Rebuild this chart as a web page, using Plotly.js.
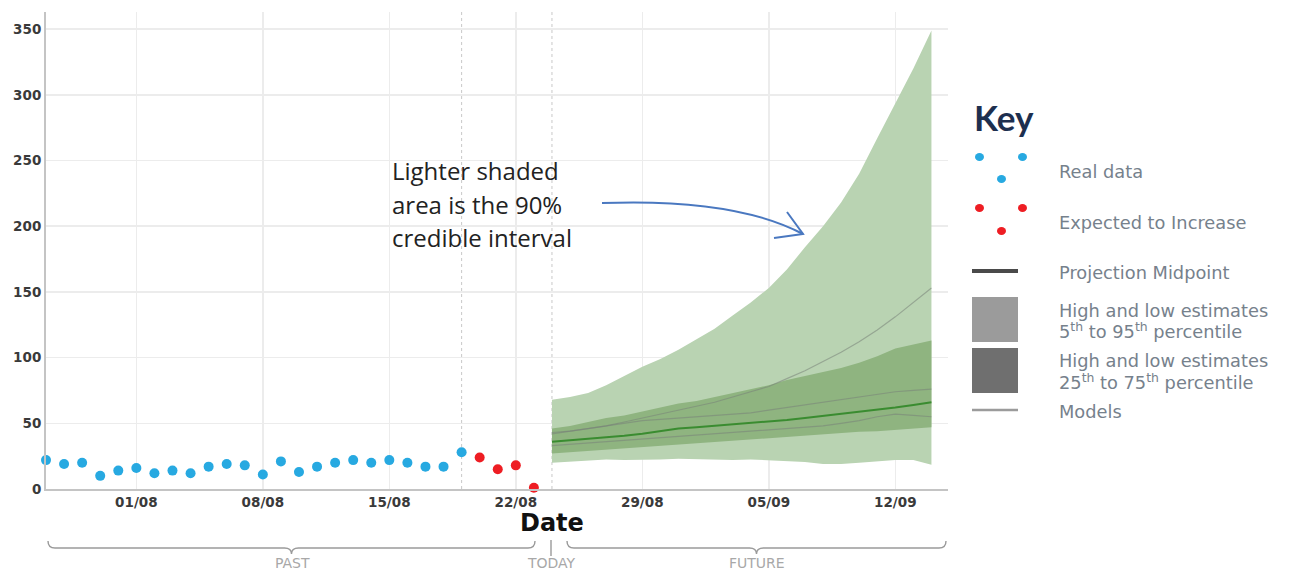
<!DOCTYPE html>
<html>
<head>
<meta charset="utf-8">
<script src="https://cdn.plot.ly/plotly-3.0.1.min.js"></script>
<style>html,body{margin:0;padding:0;background:#fff;}#chart{width:1290px;height:573px;}</style>
</head>
<body>
<div id="chart"></div>
<script>
// ---- data ----
const realDates = ['2020-07-27','2020-07-28','2020-07-29','2020-07-30','2020-07-31','2020-08-01','2020-08-02','2020-08-03','2020-08-04','2020-08-05','2020-08-06','2020-08-07','2020-08-08','2020-08-09','2020-08-10','2020-08-11','2020-08-12','2020-08-13','2020-08-14','2020-08-15','2020-08-16','2020-08-17','2020-08-18','2020-08-19'];
const realValues = [22,19,20,10,14,16,12,14,12,17,19,18,11,21,13,17,20,22,20,22,20,17,17,28];
const expectedDates = ['2020-08-20','2020-08-21','2020-08-22','2020-08-23'];
const expectedValues = [24,15,18,1];
const projDates = ['2020-08-24','2020-08-25','2020-08-26','2020-08-27','2020-08-28','2020-08-29','2020-08-30','2020-08-31','2020-09-01','2020-09-02','2020-09-03','2020-09-04','2020-09-05','2020-09-06','2020-09-07','2020-09-08','2020-09-09','2020-09-10','2020-09-11','2020-09-12','2020-09-13','2020-09-14'];
const p95 = [68,70,73,79,86,93,99,106,114,122,132,142,153,167,184,200,218,240,267,293,320,349];
const p05 = [20,21,22,22.5,22,22,22.5,23,22.5,22,22,22.5,22,21,20.5,19,19,20,21,22,22,18.5];
const p75 = [46,48,51,54,56,59,62,65,67,70,73,76,79,83,86,89,92,96,101,107,110,113];
const p25 = [27,28,29,30,31,32,33,34,35,36,37,38,39,40,41,42,43,43.5,44,45,46,47];
const midpoint = [36,37,38,39,40.5,42,44,46,47,48,49,50,51,52.5,54,55.5,57,58.5,60,62,64,66];
const modelA = [42,44,46,48,51,54,57,60,63,66,70,74,78,84,90,97,104,112,121,131,142,153];
const modelB = [43,44,46,48,50,52,53,54,55,56,57,58,60,62,64,66,68,70,72,74,75,76];
const modelC = [33,34,35,36,37,38,39,40,41,42,43,44,45,46,47,48,50,52,55,57,56,55];
const todayDate = '2020-08-24';
const lastDataDate = '2020-08-19';
const xRange = ['2020-07-27', '2020-09-14 22:00'];
const yRange = [0, 363];

// ---- layout helpers (pixel -> paper) ----
const P = {l:46, t:12, w:902, h:477};
const px = x => (x - P.l) / P.w;
const py = y => (P.t + P.h - y) / P.h;
function pp(x, y){ return px(x).toFixed(5) + ',' + py(y).toFixed(5); }

const lightGreen = 'rgb(185,211,178)';
const darkGreen = 'rgb(143,180,128)';
const modelCol = 'rgba(120,130,120,0.55)';

const traces = [
  {x: projDates, y: p05, type:'scatter', mode:'lines', line:{width:0, color:lightGreen}, hoverinfo:'skip', showlegend:false},
  {x: projDates, y: p95, type:'scatter', mode:'lines', line:{width:0, color:lightGreen}, fill:'tonexty', fillcolor:lightGreen, hoverinfo:'skip', showlegend:false},
  {x: projDates, y: p25, type:'scatter', mode:'lines', line:{width:0, color:darkGreen}, hoverinfo:'skip', showlegend:false},
  {x: projDates, y: p75, type:'scatter', mode:'lines', line:{width:0, color:darkGreen}, fill:'tonexty', fillcolor:darkGreen, hoverinfo:'skip', showlegend:false},
  {x: projDates, y: modelA, type:'scatter', mode:'lines', line:{width:1.2, color:modelCol}, showlegend:false},
  {x: projDates, y: modelB, type:'scatter', mode:'lines', line:{width:1.2, color:modelCol}, showlegend:false},
  {x: projDates, y: modelC, type:'scatter', mode:'lines', line:{width:1.2, color:modelCol}, showlegend:false},
  {x: projDates, y: midpoint, type:'scatter', mode:'lines', line:{width:2, color:'rgb(58,140,48)'}, showlegend:false},
  {x: realDates, y: realValues, type:'scatter', mode:'markers', marker:{size:10, color:'#27a9e1'}, cliponaxis:false, showlegend:false},
  {x: expectedDates, y: expectedValues, type:'scatter', mode:'markers', marker:{size:10, color:'#ee1d23'}, cliponaxis:false, showlegend:false}
];

function brace(x0, x1, yTop, yLine, yTip){
  const c = (x0 + x1) / 2, r = 7;
  return 'M ' + pp(x0, yTop) + ' Q ' + pp(x0, yLine) + ' ' + pp(x0 + r, yLine) +
         ' L ' + pp(c - r, yLine) + ' Q ' + pp(c, yLine) + ' ' + pp(c, yTip) +
         ' Q ' + pp(c, yLine) + ' ' + pp(c + r, yLine) +
         ' L ' + pp(x1 - r, yLine) + ' Q ' + pp(x1, yLine) + ' ' + pp(x1, yTop);
}

const shapes = [
  {type:'line', xref:'x', yref:'paper', x0:lastDataDate, x1:lastDataDate, y0:0, y1:1, line:{color:'#c8c8c8', width:1, dash:'dot'}, layer:'below'},
  {type:'line', xref:'x', yref:'paper', x0:todayDate, x1:todayDate, y0:0, y1:1, line:{color:'#c8c8c8', width:1, dash:'dot'}, layer:'below'},
  // braces
  {type:'path', xref:'paper', yref:'paper', path: brace(48, 535, 541, 548, 554), line:{color:'#9a9a9a', width:1.4}},
  {type:'path', xref:'paper', yref:'paper', path: brace(567, 946, 541, 548, 554), line:{color:'#9a9a9a', width:1.4}},
  {type:'line', xref:'paper', yref:'paper', x0:px(551), x1:px(551), y0:py(540), y1:py(556), line:{color:'#9a9a9a', width:1.4}},
  // curved arrow
  {type:'path', xref:'paper', yref:'paper', path:'M ' + pp(602,203) + ' Q ' + pp(735,198) + ' ' + pp(803,234), line:{color:'#4a78c0', width:2}},
  {type:'path', xref:'paper', yref:'paper', path:'M ' + pp(787,212) + ' L ' + pp(803,234) + ' L ' + pp(774,238), line:{color:'#4a78c0', width:2}},
  // legend glyphs
  {type:'circle', xref:'paper', yref:'paper', x0:px(975), x1:px(984), y0:py(153), y1:py(161), fillcolor:'#27a9e1', line:{width:0}},
  {type:'circle', xref:'paper', yref:'paper', x0:px(1018), x1:px(1027), y0:py(153), y1:py(161), fillcolor:'#27a9e1', line:{width:0}},
  {type:'circle', xref:'paper', yref:'paper', x0:px(997), x1:px(1006), y0:py(175), y1:py(183), fillcolor:'#27a9e1', line:{width:0}},
  {type:'circle', xref:'paper', yref:'paper', x0:px(975), x1:px(984), y0:py(204), y1:py(212), fillcolor:'#ee1d23', line:{width:0}},
  {type:'circle', xref:'paper', yref:'paper', x0:px(1018), x1:px(1027), y0:py(204), y1:py(212), fillcolor:'#ee1d23', line:{width:0}},
  {type:'circle', xref:'paper', yref:'paper', x0:px(997), x1:px(1006), y0:py(227), y1:py(235), fillcolor:'#ee1d23', line:{width:0}},
  {type:'line', xref:'paper', yref:'paper', x0:px(972), x1:px(1018), y0:py(271), y1:py(271), line:{color:'#4a4a4a', width:4}},
  {type:'rect', xref:'paper', yref:'paper', x0:px(972), x1:px(1018), y0:py(297), y1:py(342), fillcolor:'#9b9b9b', line:{width:0}},
  {type:'rect', xref:'paper', yref:'paper', x0:px(972), x1:px(1018), y0:py(348), y1:py(393), fillcolor:'#6f6f6f', line:{width:0}},
  {type:'line', xref:'paper', yref:'paper', x0:px(972), x1:px(1018), y0:py(410), y1:py(410), line:{color:'#9b9b9b', width:2.5}}
];

const legFont = {family:'"DejaVu Sans", sans-serif', size:17.8, color:'#76818c'};
function ann(text, x, y, font, xanchor){
  return {text:text, xref:'paper', yref:'paper', x:px(x), y:py(y), xanchor:xanchor||'left', yanchor:'middle', showarrow:false, font:font, align:'left'};
}
const noteFont = {family:'"Open Sans", sans-serif', size:24, color:'#222'};
const bottomFont = {family:'"DejaVu Sans", sans-serif', size:14, color:'#a8a8a8'};
const annotations = [
  ann('Key', 972, 117, {family:'Lato, sans-serif', size:35, color:'#1d2f4f', weight:'bold'}),
  ann('Real data', 1057, 171, legFont),
  ann('Expected to Increase', 1057, 222, legFont),
  ann('Projection Midpoint', 1057, 272, legFont),
  ann('High and low estimates', 1057, 310, legFont),
  ann('5<sup>th</sup> to 95<sup>th</sup> percentile', 1057, 330, legFont),
  ann('High and low estimates', 1057, 360, legFont),
  ann('25<sup>th</sup> to 75<sup>th</sup> percentile', 1057, 381, legFont),
  ann('Models', 1057, 411, legFont),
  ann('Lighter shaded', 390, 170, noteFont),
  ann('area is the 90%', 390, 204, noteFont),
  ann('credible interval', 390, 237, noteFont),
  ann('Date', 552, 523, {family:'"DejaVu Sans", sans-serif', size:24, color:'#111', weight:'bold'}, 'center'),
  ann('PAST', 292, 563, bottomFont, 'center'),
  ann('TODAY', 551, 563, bottomFont, 'center'),
  ann('FUTURE', 757, 563, bottomFont, 'center')
];

const tickFont = {family:'"DejaVu Sans", sans-serif', size:13.5, color:'#3a3a3a', weight:'bold'};
const layout = {
  width:1290, height:573, autosize:false,
  margin:{l:P.l, r:1290-P.l-P.w, t:P.t, b:573-P.t-P.h, pad:0},
  paper_bgcolor:'#fff', plot_bgcolor:'#fff',
  showlegend:false,
  xaxis:{type:'date', range:xRange, tick0:'2020-08-01', dtick:7*86400000, tickformat:'%d/%m',
         showgrid:true, gridcolor:'#ececec', gridwidth:1.5, zeroline:false,
         showline:true, linecolor:'#c4c4c4', linewidth:1.5, ticks:'', tickfont:tickFont},
  yaxis:{range:yRange, dtick:50, showgrid:true, gridcolor:'#ececec', gridwidth:1.5, zeroline:false,
         showline:true, linecolor:'#c4c4c4', linewidth:2, ticks:'', tickfont:tickFont},
  shapes:shapes, annotations:annotations
};
Plotly.newPlot('chart', traces, layout, {displayModeBar:false, staticPlot:true});
</script>
</body>
</html>
